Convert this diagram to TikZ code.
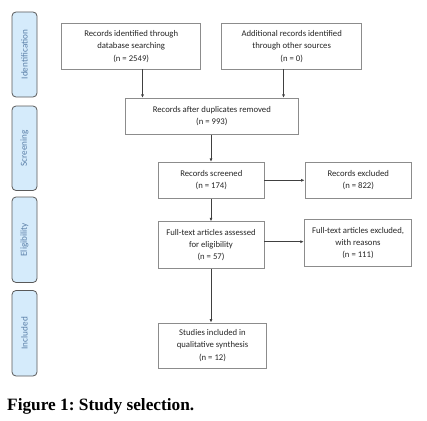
\documentclass[tikz,border=0pt]{standalone}
\usepackage{fontspec}
\setmainfont{Carlito}
\newfontfamily\capfont{Liberation Serif}
\usetikzlibrary{arrows.meta}
\definecolor{sidefill}{HTML}{D5EBFB}
\definecolor{sidetext}{HTML}{5A7FA8}
\definecolor{boxline}{HTML}{8C8C8C}
\frenchspacing
\begin{document}
\begin{tikzpicture}[x=1pt,y=-1pt,
  mainbox/.style={draw=boxline,line width=0.8pt,fill=white,align=center,font=\fontsize{8.7}{12.4}\selectfont,text=black!85,inner sep=0pt},
  sidebox/.style={draw=black!65,line width=0.8pt,fill=sidefill,rounded corners=4pt},
  sidelabel/.style={rotate=90,text=sidetext,font=\fontsize{9.2}{10}\selectfont},
  conn/.style={draw=black!75,line width=0.7pt,-{Latex[length=3.5pt,width=3pt]}}]
\useasboundingbox (0,0) rectangle (427,420);
% side boxes
\draw[sidebox] (12,12) rectangle (37,97);
\node[sidelabel] (lid) at (24.5,54.5) {Identification};
\draw[sidebox] (12,106) rectangle (37,190.5);
\node[sidelabel] (lsc) at (24.5,148.25) {Screening};
\draw[sidebox] (12,197) rectangle (37,282.5);
\node[sidelabel] (lel) at (24.5,239.75) {Eligibility};
\draw[sidebox] (12,290.5) rectangle (37,376);
\node[sidelabel] (lin) at (24.5,333.25) {Included};
% main boxes
\node[mainbox,minimum width=139pt,minimum height=45.5pt] (a) at (131.2,46.2)
  {Records identified through\\database searching\\(n = 2549)};
\node[mainbox,minimum width=140pt,minimum height=45.5pt] (b) at (291.7,46.2)
  {Additional records identified\\through other sources\\(n = 0)};
\node[mainbox,minimum width=173.5pt,minimum height=36pt] (c) at (211.8,116.3)
  {Records after duplicates removed\\(n = 993)};
\node[mainbox,minimum width=105.5pt,minimum height=36pt] (d) at (211.3,180.3)
  {Records screened\\(n = 174)};
\node[mainbox,minimum width=106.5pt,minimum height=36pt] (e) at (358.3,180.3)
  {Records excluded\\(n = 822)};
\node[mainbox,minimum width=106pt,minimum height=46.5pt] (f) at (211,245)
  {Full-text articles assessed\\for eligibility\\(n = 57)};
\node[mainbox,minimum width=107.5pt,minimum height=47.5pt] (g) at (358,243)
  {Full-text articles excluded,\\with reasons\\(n = 111)};
\node[mainbox,minimum width=108.5pt,minimum height=45pt] (h) at (212.5,345.5)
  {Studies included in\\qualitative synthesis\\(n = 12)};
% connectors
\draw[conn] (a.south -| 142.5,0) -- (c.north -| 142.5,0);
\draw[conn] (b.south -| 283.5,0) -- (c.north -| 283.5,0);
\draw[conn] (c.south -| 211,0) -- (d.north -| 211,0);
\draw[conn] (d.south -| 211,0) -- (f.north -| 211,0);
\draw[conn] (f.south -| 211,0) -- (h.north -| 211,0);
\draw[conn] (d.east) -- (e.west);
\draw[conn] (f.east |- 0,241.7) -- (g.west |- 0,241.7);
% caption
\node[anchor=base west,inner sep=0pt,font=\capfont\bfseries\fontsize{17.3}{20}\selectfont] (cap) at (7,410) {Figure 1: Study selection.};
\end{tikzpicture}
\end{document}
